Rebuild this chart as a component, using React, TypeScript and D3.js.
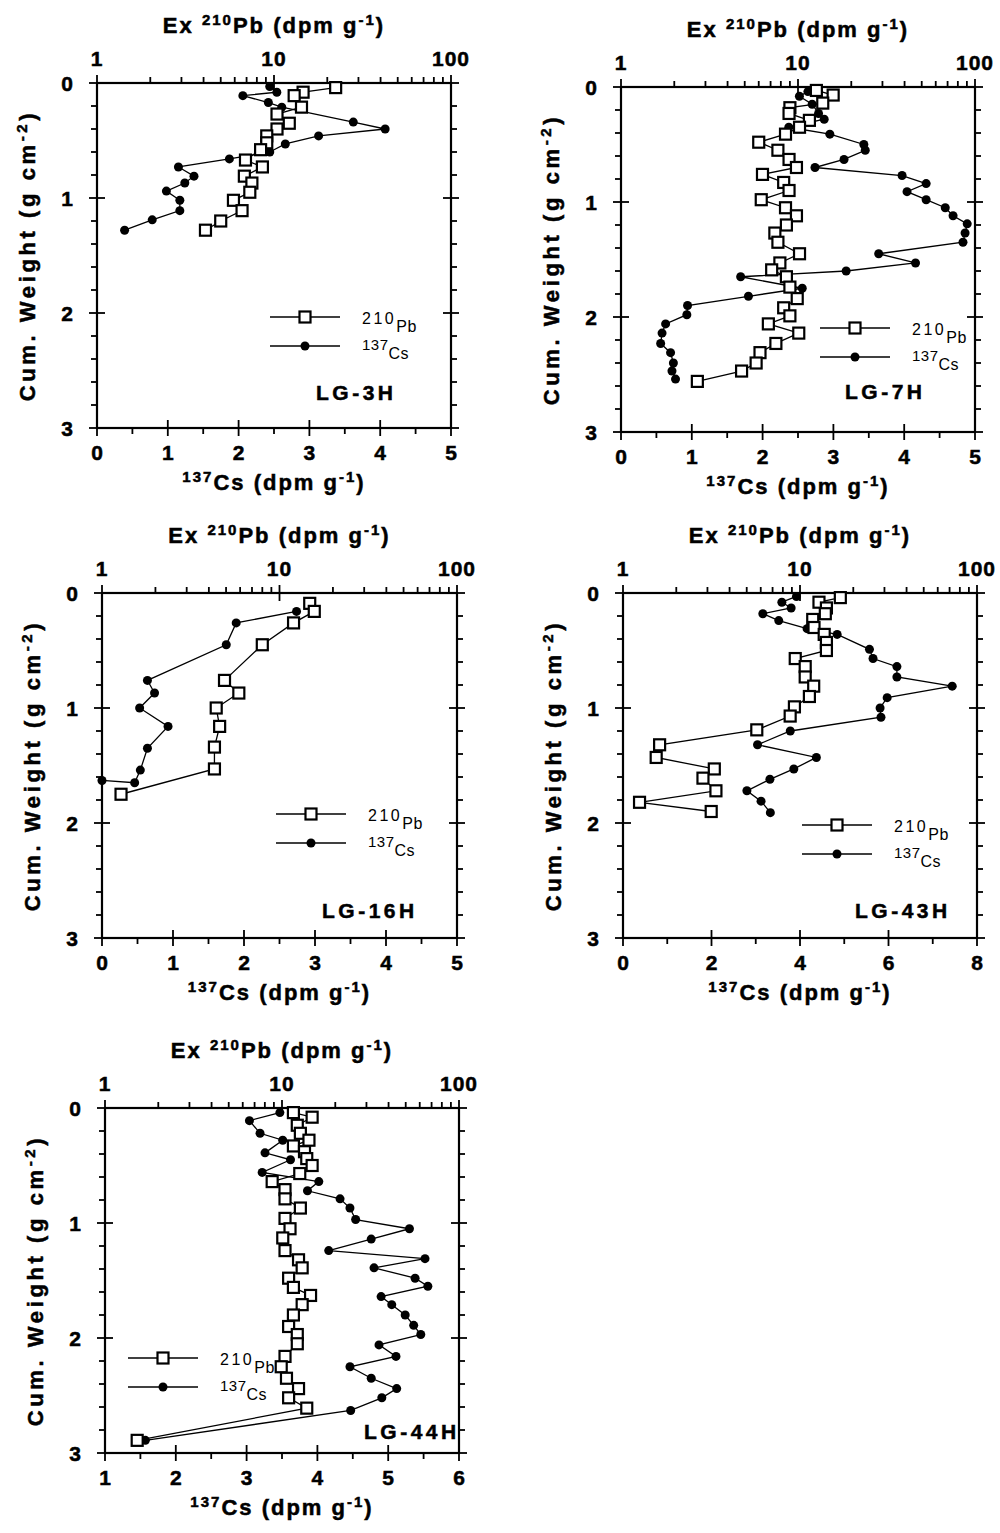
import React from 'react';
import * as d3 from 'd3';

type Pt = [number, number]; // [cumulative weight (g cm-2), activity]

// ---------- LG-3H ----------
const lg3hPb: Pt[] = [[0.04,22.3],[0.08,14.6],[0.11,13.0],[0.21,14.3],[0.27,10.4],[0.35,12.2],[0.40,10.4],[0.46,9.1],[0.52,9.1],[0.58,8.4],[0.67,6.9],[0.73,8.6],[0.81,6.8],[0.87,7.5],[0.95,7.3],[1.02,5.9],[1.11,6.6],[1.20,5.0],[1.28,4.1]];
const lg3hCs: Pt[] = [[0.03,2.44],[0.08,2.54],[0.11,2.06],[0.17,2.42],[0.21,2.61],[0.34,3.62],[0.40,4.07],[0.46,3.13],[0.53,2.66],[0.60,2.44],[0.66,1.87],[0.73,1.15],[0.81,1.37],[0.87,1.24],[0.94,0.98],[1.02,1.17],[1.11,1.17],[1.19,0.78],[1.28,0.39]];

// ---------- LG-7H ----------
const lg7hPb: Pt[] = [[0.03,12.7],[0.07,15.8],[0.14,13.8],[0.18,9.0],[0.23,8.9],[0.29,11.6],[0.35,10.2],[0.41,8.5],[0.48,6.0],[0.55,7.7],[0.63,8.9],[0.70,9.8],[0.76,6.3],[0.83,8.3],[0.90,8.9],[0.98,6.2],[1.05,8.5],[1.12,9.8],[1.20,8.6],[1.27,7.4],[1.35,7.7],[1.45,10.2],[1.53,7.9],[1.59,7.1],[1.65,8.6],[1.74,9.0],[1.84,9.9],[1.92,8.3],[1.99,9.0],[2.06,6.8],[2.14,10.1],[2.23,7.5],[2.31,6.1],[2.40,5.8],[2.47,4.8],[2.56,2.7]];
const lg7hCs: Pt[] = [[0.04,2.64],[0.08,2.52],[0.15,2.70],[0.23,2.79],[0.28,2.87],[0.35,2.37],[0.41,2.95],[0.50,3.43],[0.55,3.45],[0.63,3.15],[0.70,2.74],[0.77,3.97],[0.84,4.31],[0.91,4.04],[0.98,4.31],[1.05,4.58],[1.12,4.69],[1.19,4.89],[1.27,4.86],[1.35,4.83],[1.45,3.64],[1.53,4.16],[1.60,3.18],[1.65,1.69],[1.75,2.56],[1.82,1.80],[1.90,0.94],[1.98,0.93],[2.06,0.63],[2.14,0.58],[2.23,0.56],[2.31,0.70],[2.40,0.74],[2.47,0.72],[2.54,0.77]];

// ---------- LG-16H ----------
const lg16hPb: Pt[] = [[0.09,14.8],[0.16,15.7],[0.26,12.0],[0.45,8.0],[0.76,4.9],[0.87,5.9],[1.00,4.4],[1.16,4.6],[1.34,4.3],[1.53,4.3],[1.75,1.28]];
const lg16hCs: Pt[] = [[0.16,2.74],[0.26,1.89],[0.45,1.75],[0.76,0.64],[0.87,0.74],[1.00,0.53],[1.16,0.93],[1.35,0.64],[1.54,0.54],[1.65,0.46],[1.63,0.0]];

// ---------- LG-43H ----------
const lg43hPb: Pt[] = [[0.04,16.9],[0.08,12.8],[0.13,14.1],[0.18,13.9],[0.23,11.8],[0.30,12.0],[0.36,13.7],[0.43,14.1],[0.50,14.1],[0.57,9.4],[0.64,10.7],[0.73,10.7],[0.81,11.95],[0.90,11.3],[0.99,9.3],[1.07,8.8],[1.19,5.7],[1.32,1.61],[1.43,1.54],[1.53,3.28],[1.61,2.83],[1.72,3.35],[1.82,1.24],[1.90,3.15]];
const lg43hCs: Pt[] = [[0.03,3.92],[0.08,3.59],[0.13,3.80],[0.18,3.16],[0.24,3.52],[0.31,4.16],[0.36,4.84],[0.49,5.57],[0.57,5.65],[0.64,6.19],[0.73,6.19],[0.81,7.44],[0.91,5.97],[1.00,5.81],[1.08,5.83],[1.20,3.78],[1.32,3.04],[1.43,4.37],[1.53,3.86],[1.62,3.32],[1.72,2.80],[1.81,3.12],[1.91,3.33]];

// ---------- LG-44H ----------
const lg44hPb: Pt[] = [[0.04,11.6],[0.08,14.8],[0.15,12.2],[0.22,12.7],[0.28,14.2],[0.33,11.6],[0.38,13.4],[0.44,13.8],[0.50,14.8],[0.57,12.6],[0.64,8.8],[0.71,10.4],[0.79,10.4],[0.87,12.7],[0.96,10.4],[1.05,11.1],[1.13,10.1],[1.24,10.4],[1.32,12.4],[1.39,13.0],[1.48,10.9],[1.56,11.6],[1.63,14.5],[1.71,13.0],[1.80,11.6],[1.90,10.9],[1.97,12.2],[2.05,12.2],[2.16,10.4],[2.25,9.9],[2.35,10.6],[2.44,12.4],[2.52,10.9],[2.61,13.8],[2.89,1.52]];
const lg44hCs: Pt[] = [[0.04,3.47],[0.11,3.04],[0.22,3.19],[0.28,3.51],[0.39,3.26],[0.45,3.62],[0.56,3.22],[0.64,4.02],[0.72,3.86],[0.79,4.32],[0.87,4.46],[0.97,4.54],[1.05,5.30],[1.14,4.76],[1.24,4.16],[1.31,5.52],[1.39,4.80],[1.48,5.38],[1.55,5.56],[1.64,4.90],[1.71,5.05],[1.80,5.24],[1.89,5.36],[1.97,5.46],[2.06,4.87],[2.16,5.11],[2.25,4.46],[2.35,4.76],[2.44,5.12],[2.52,4.91],[2.63,4.47],[2.89,1.57]];

// axis tick values
const depthMajor = [0, 1, 2, 3];
const depthMinor = [0.2,0.4,0.6,0.8,1.2,1.4,1.6,1.8,2.2,2.4,2.6,2.8];
const pbMajor = [1, 10, 100];
const pbMinor = [2,3,4,5,6,7,8,9,20,30,40,50,60,70,80,90];
const cs5Major = [0,1,2,3,4,5];
const cs5Minor = [0.5,1.5,2.5,3.5,4.5];
const cs8Major = [0,2,4,6,8];
const cs8Minor = [1,3,5,7];
const cs16Major = [1,2,3,4,5,6];
const cs16Minor = [1.5,2.5,3.5,4.5,5.5];

const FONT = '"Liberation Sans", Arial, Helvetica, sans-serif';
const HEAVY = { fontWeight: 'bold' as const, stroke: '#000', strokeWidth: 0.5 };

interface PanelProps {
  left: number; top: number; width: number; height: number;
  pb: Pt[]; cs: Pt[];
  csDomain: [number, number]; csMajor: number[]; csMinor: number[];
  legX: number; legY: number;
  label: string; labelX: number; labelY: number;
}

const Panel: React.FC<PanelProps> = (p) => {
  const { left, top, width, height } = p;
  const right = left + width, bottom = top + height;
  const xPb = d3.scaleLog().domain([1, 100]).range([left, right]);
  const xCs = d3.scaleLinear().domain(p.csDomain).range([left, right]);
  const y = d3.scaleLinear().domain([0, 3]).range([top, bottom]);
  const pbLine = d3.line<Pt>().x(d => xPb(Math.max(d[1], 1))).y(d => y(d[0]));
  const csLine = d3.line<Pt>().x(d => xCs(d[1])).y(d => y(d[0]));
  const tk = { stroke: '#000', strokeWidth: 1.8 };
  const MJ = 8, MN = 6;
  const cx = (left + right) / 2, cy = (top + bottom) / 2;
  const lx = left + p.legX, ly = top + p.legY;
  return (
    <g fontFamily={FONT}>
      <rect x={left} y={top} width={width} height={height} fill="none" stroke="#000" strokeWidth={2.2} />
      {depthMajor.map(v => (
        <g key={'dm' + v}>
          <line x1={left - MJ} x2={left + MJ} y1={y(v)} y2={y(v)} {...tk} />
          <line x1={right - MJ} x2={right + MJ} y1={y(v)} y2={y(v)} {...tk} />
          <text x={left - 24} y={y(v) + 8} textAnchor="end" fontSize={21} {...HEAVY}>{v}</text>
        </g>
      ))}
      {depthMinor.map(v => (
        <g key={'dn' + v}>
          <line x1={left - MN} x2={left} y1={y(v)} y2={y(v)} {...tk} />
          <line x1={right} x2={right + MN} y1={y(v)} y2={y(v)} {...tk} />
        </g>
      ))}
      {pbMajor.map(v => (
        <g key={'pm' + v}>
          <line x1={xPb(v)} x2={xPb(v)} y1={top - MJ} y2={top + MJ} {...tk} />
          <text x={xPb(v)} y={top - 17} textAnchor="middle" fontSize={21} letterSpacing={1} {...HEAVY}>{v}</text>
        </g>
      ))}
      {pbMinor.map(v => (
        <line key={'pn' + v} x1={xPb(v)} x2={xPb(v)} y1={top - MN} y2={top} {...tk} />
      ))}
      {p.csMajor.map(v => (
        <g key={'cm' + v}>
          <line x1={xCs(v)} x2={xCs(v)} y1={bottom - MJ} y2={bottom + MJ} {...tk} />
          <text x={xCs(v)} y={bottom + 32} textAnchor="middle" fontSize={21} {...HEAVY}>{v}</text>
        </g>
      ))}
      {p.csMinor.map(v => (
        <line key={'cn' + v} x1={xCs(v)} x2={xCs(v)} y1={bottom} y2={bottom + MN} {...tk} />
      ))}
      <text x={cx} y={top - 50} textAnchor="middle" fontSize={22} letterSpacing={2} {...HEAVY}>
        <tspan>Ex </tspan>
        <tspan fontSize={15} dy={-8}>210</tspan>
        <tspan dy={8}>Pb (dpm g</tspan>
        <tspan fontSize={15} dy={-8}>-1</tspan>
        <tspan dy={8}>)</tspan>
      </text>
      <text x={cx} y={bottom + 62} textAnchor="middle" fontSize={22} letterSpacing={2} {...HEAVY}>
        <tspan fontSize={15} dy={-8}>137</tspan>
        <tspan dy={8}>Cs (dpm g</tspan>
        <tspan fontSize={15} dy={-8}>-1</tspan>
        <tspan dy={8}>)</tspan>
      </text>
      <text transform={`translate(${left - 62},${cy}) rotate(-90)`} textAnchor="middle" fontSize={22} letterSpacing={3.6} {...HEAVY}>
        <tspan>Cum. Weight (g cm</tspan>
        <tspan fontSize={15} dy={-8}>-2</tspan>
        <tspan dy={8}>)</tspan>
      </text>
      <path d={pbLine(p.pb) || ''} fill="none" stroke="#000" strokeWidth={1.3} />
      <path d={csLine(p.cs) || ''} fill="none" stroke="#000" strokeWidth={1.3} />
      {p.cs.map((d, i) => (
        <circle key={'c' + i} cx={xCs(d[1])} cy={y(d[0])} r={4.5} fill="#000" />
      ))}
      {p.pb.map((d, i) => (
        <rect key={'s' + i} x={xPb(Math.max(d[1], 1)) - 5.5} y={y(d[0]) - 5.5} width={11} height={11} fill="#fff" stroke="#000" strokeWidth={2.2} />
      ))}
      <line x1={lx} x2={lx + 70} y1={ly} y2={ly} stroke="#000" strokeWidth={1.3} />
      <rect x={lx + 35 - 5.5} y={ly - 5.5} width={11} height={11} fill="#fff" stroke="#000" strokeWidth={2.2} />
      <text x={lx + 92} y={ly + 7} fontSize={16} letterSpacing={2.5}>
        <tspan>210</tspan>
        <tspan dy={8} letterSpacing={0.5}>Pb</tspan>
      </text>
      <line x1={lx} x2={lx + 70} y1={ly + 29} y2={ly + 29} stroke="#000" strokeWidth={1.3} />
      <circle cx={lx + 35} cy={ly + 29} r={4.5} fill="#000" />
      <text x={lx + 92} y={ly + 33} fontSize={15} letterSpacing={0.5}>
        <tspan>137</tspan>
        <tspan dy={9} fontSize={16}>Cs</tspan>
      </text>
      <text x={left + p.labelX} y={top + p.labelY} fontSize={21} letterSpacing={3.5} {...HEAVY}>{p.label}</text>
    </g>
  );
};

export default function App() {
  return (
    <svg width={1000} height={1533} style={{ position: 'absolute', left: 0, top: 0, background: '#fff' }}>
      <rect width={1000} height={1533} fill="#fff" />
      <Panel left={97} top={83} width={354} height={345} pb={lg3hPb} cs={lg3hCs}
        csDomain={[0, 5]} csMajor={cs5Major} csMinor={cs5Minor}
        legX={173} legY={234} label="LG-3H" labelX={219} labelY={317} />
      <Panel left={621} top={87} width={354} height={345} pb={lg7hPb} cs={lg7hCs}
        csDomain={[0, 5]} csMajor={cs5Major} csMinor={cs5Minor}
        legX={199} legY={241} label="LG-7H" labelX={224} labelY={312} />
      <Panel left={102} top={593} width={355} height={345} pb={lg16hPb} cs={lg16hCs}
        csDomain={[0, 5]} csMajor={cs5Major} csMinor={cs5Minor}
        legX={174} legY={221} label="LG-16H" labelX={220} labelY={325} />
      <Panel left={623} top={593} width={354} height={345} pb={lg43hPb} cs={lg43hCs}
        csDomain={[0, 8]} csMajor={cs8Major} csMinor={cs8Minor}
        legX={179} legY={232} label="LG-43H" labelX={232} labelY={325} />
      <Panel left={105} top={1108} width={354} height={345} pb={lg44hPb} cs={lg44hCs}
        csDomain={[1, 6]} csMajor={cs16Major} csMinor={cs16Minor}
        legX={23} legY={250} label="LG-44H" labelX={259} labelY={331} />
    </svg>
  );
}
